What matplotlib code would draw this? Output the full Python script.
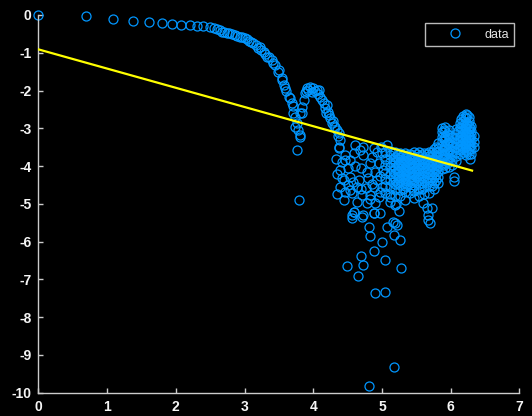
import matplotlib.pyplot as plt
import numpy as np

plt.rcParams["axes.unicode_minus"] = False

# points, grouped by region
curve_pts = [
    (0.00, 0.00), (0.69, -0.03), (1.09, -0.10), (1.38, -0.15), (1.61, -0.19),
    (1.80, -0.21), (1.94, -0.24), (2.08, -0.26), (2.21, -0.27), (2.31, -0.29),
    (2.40, -0.30), (2.50, -0.33), (2.55, -0.35), (2.60, -0.38), (2.64, -0.41),
    (2.67, -0.44), (2.70, -0.46), (2.74, -0.48), (2.78, -0.49), (2.82, -0.51),
    (2.86, -0.53), (2.89, -0.55), (2.93, -0.57), (2.96, -0.59), (3.00, -0.61),
    (3.03, -0.64), (3.07, -0.68), (3.10, -0.72), (3.13, -0.75), (3.16, -0.80),
    (3.20, -0.88), (3.23, -0.84), (3.24, -0.92), (3.28, -0.97), (3.30, -1.02),
    (3.32, -1.10), (3.35, -1.12), (3.40, -1.20), (3.42, -1.28), (3.45, -1.32),
    (3.49, -1.50), (3.50, -1.45), (3.54, -1.72), (3.55, -1.68), (3.57, -1.85),
    (3.59, -1.94), (3.61, -2.02), (3.64, -2.16), (3.66, -2.20), (3.69, -2.34),
    (3.70, -2.40), (3.71, -2.60), (3.73, -2.70), (3.74, -2.96), (3.76, -2.87),
    (3.78, -3.05), (3.81, -3.18), (3.81, -3.22), (3.77, -3.57), (3.79, -4.90),
]

arm_pts = [
    (3.81, -2.60), (3.83, -2.43), (3.83, -2.60), (3.86, -2.25), (3.88, -2.07),
    (3.90, -2.00), (3.91, -1.94), (3.93, -1.98), (3.95, -1.90), (3.98, -2.05),
    (4.00, -1.94), (4.02, -2.02), (4.05, -1.99), (4.07, -2.10), (4.08, -1.99),
    (4.10, -2.16), (4.12, -2.25), (4.15, -2.34), (4.17, -2.45), (4.19, -2.60),
    (4.20, -2.38), (4.22, -2.56), (4.23, -2.65), (4.25, -2.73), (4.27, -2.87),
    (4.28, -2.80), (4.30, -2.95), (4.32, -2.96), (4.34, -3.05), (4.36, -3.20),
    (4.37, -3.13), (4.39, -3.31), (4.38, -3.53),
]

cloud_pts = [
    (4.38, -3.49), (4.61, -3.44), (4.73, -3.49), (4.88, -3.53), (4.46, -3.71),
    (4.59, -3.66), (4.73, -3.71), (4.85, -3.75), (5.00, -3.66), (4.42, -3.88),
    (4.54, -3.84), (4.83, -3.93), (4.95, -3.93), (4.39, -4.10), (4.51, -4.06),
    (4.78, -4.15), (4.90, -4.15), (5.02, -4.10), (4.42, -4.32), (4.54, -4.28),
    (4.66, -4.37), (4.80, -4.32), (4.93, -4.37), (4.39, -4.55), (4.51, -4.50),
    (4.63, -4.55), (4.76, -4.59), (4.88, -4.55), (5.00, -4.55), (4.46, -4.68),
    (4.56, -4.72), (4.71, -4.77), (4.83, -4.77), (4.95, -4.81), (4.44, -4.90),
    (4.63, -4.94), (4.78, -4.99), (4.90, -4.99), (4.59, -5.21), (4.73, -5.30),
    (4.88, -5.25), (4.56, -5.30), (4.33, -3.80), (4.34, -4.20), (4.35, -4.75),
    (4.46, -3.84), (4.44, -4.37), (4.54, -4.63), (4.68, -3.58), (4.92, -3.62),
    (4.70, -4.05), (4.60, -4.00), (4.86, -4.48), (4.97, -4.25), (5.07, -3.44),
    (4.98, -3.50), (4.97, -4.68), (4.70, -4.62), (4.82, -4.86), (4.58, -4.42),
]

tail_pts = [
    (4.59, -5.21), (4.56, -5.38), (4.71, -5.34), (4.81, -5.60), (4.82, -5.85),
    (4.88, -5.25), (4.97, -5.25), (5.07, -5.60), (5.19, -5.51), (5.22, -5.56),
    (5.17, -5.82), (5.26, -5.97), (5.00, -6.00), (4.89, -6.24), (4.70, -6.38),
    (4.73, -6.62), (4.49, -6.65), (4.65, -6.91), (5.05, -6.49), (5.27, -6.71),
    (4.90, -7.37), (5.05, -7.34), (5.18, -9.31), (4.81, -9.81), (5.16, -5.48),
    (5.12, -4.82), (5.20, -5.00), (5.25, -5.20), (5.60, -4.98), (5.65, -5.10),
    (5.67, -5.30), (5.67, -5.43), (5.70, -5.50), (5.73, -5.10),
]

dense_pts = [
    (5.05, -3.62), (5.05, -3.80), (5.05, -3.98), (5.05, -4.18), (5.05, -4.35), (5.05, -4.52), (5.05, -4.70),
    (5.12, -3.60), (5.12, -3.72), (5.12, -3.88), (5.12, -4.02), (5.12, -4.20), (5.12, -4.38), (5.12, -4.55),
    (5.12, -4.75), (5.12, -4.95),
    (5.19, -3.62), (5.19, -3.75), (5.19, -3.90), (5.19, -4.05), (5.19, -4.18), (5.19, -4.32), (5.19, -4.47),
    (5.19, -4.62), (5.19, -4.80), (5.19, -5.02),
    (5.26, -3.65), (5.26, -3.76), (5.26, -3.88), (5.26, -4.00), (5.26, -4.12), (5.26, -4.25), (5.26, -4.38),
    (5.26, -4.50), (5.26, -4.64), (5.26, -4.80),
    (5.33, -3.66), (5.33, -3.78), (5.33, -3.90), (5.33, -4.02), (5.33, -4.14), (5.33, -4.26), (5.33, -4.38),
    (5.33, -4.52), (5.33, -4.68), (5.33, -4.90),
    (5.40, -3.68), (5.40, -3.80), (5.40, -3.92), (5.40, -4.04), (5.40, -4.16), (5.40, -4.28), (5.40, -4.40),
    (5.40, -4.55), (5.40, -4.72),
    (5.47, -3.64), (5.47, -3.76), (5.47, -3.88), (5.47, -4.00), (5.47, -4.12), (5.47, -4.24), (5.47, -4.36),
    (5.47, -4.50), (5.47, -4.66), (5.47, -4.85),
    (5.54, -3.62), (5.54, -3.74), (5.54, -3.86), (5.54, -3.98), (5.54, -4.10), (5.54, -4.22), (5.54, -4.34),
    (5.54, -4.48), (5.54, -4.62), (5.54, -4.80),
    (5.61, -3.65), (5.61, -3.78), (5.61, -3.90), (5.61, -4.02), (5.61, -4.14), (5.61, -4.26), (5.61, -4.40),
    (5.61, -4.55), (5.61, -4.75),
    (5.68, -3.62), (5.68, -3.74), (5.68, -3.86), (5.68, -3.98), (5.68, -4.10), (5.68, -4.22), (5.68, -4.36),
    (5.68, -4.52), (5.68, -4.70),
    (5.75, -3.55), (5.75, -3.68), (5.75, -3.80), (5.75, -3.92), (5.75, -4.04), (5.75, -4.16), (5.75, -4.30),
    (5.75, -4.45), (5.75, -4.62),
    (5.82, -3.40), (5.82, -3.52), (5.82, -3.64), (5.82, -3.76), (5.82, -3.88), (5.82, -4.00), (5.82, -4.14),
    (5.82, -4.30), (5.82, -4.46),
]

# the solid core, between the columns above
core_pts = [
    (5.23, -3.70), (5.23, -3.82), (5.23, -3.94), (5.23, -4.06), (5.23, -4.18), (5.23, -4.31), (5.23, -4.44),
    (5.30, -3.71), (5.30, -3.83), (5.30, -3.95), (5.30, -4.08), (5.30, -4.20), (5.30, -4.33), (5.30, -4.46),
    (5.30, -4.60),
    (5.37, -3.72), (5.37, -3.84), (5.37, -3.97), (5.37, -4.10), (5.37, -4.22), (5.37, -4.34), (5.37, -4.47),
    (5.44, -3.70), (5.44, -3.82), (5.44, -3.94), (5.44, -4.06), (5.44, -4.18), (5.44, -4.30), (5.44, -4.43),
    (5.44, -4.58),
    (5.51, -3.68), (5.51, -3.80), (5.51, -3.92), (5.51, -4.04), (5.51, -4.16), (5.51, -4.28), (5.51, -4.41),
    (5.58, -3.70), (5.58, -3.82), (5.58, -3.94), (5.58, -4.06), (5.58, -4.18), (5.58, -4.31), (5.58, -4.45),
    (5.58, -4.60),
    (5.65, -3.68), (5.65, -3.80), (5.65, -3.92), (5.65, -4.04), (5.65, -4.16), (5.65, -4.29), (5.65, -4.43),
    (5.72, -3.62), (5.72, -3.74), (5.72, -3.86), (5.72, -3.98), (5.72, -4.10), (5.72, -4.23), (5.72, -4.37),
    (5.72, -4.53),
    (5.79, -3.50), (5.79, -3.62), (5.79, -3.74), (5.79, -3.86), (5.79, -3.98), (5.79, -4.10), (5.79, -4.22),
    (5.79, -4.37),
    (5.16, -3.66), (5.16, -3.82), (5.16, -3.96), (5.16, -4.12), (5.16, -4.28), (5.16, -4.42),
]

hump_pts = [
    (5.87, -2.98), (5.87, -3.10), (5.87, -3.22), (5.87, -3.34), (5.87, -3.46), (5.87, -3.58), (5.87, -3.70),
    (5.87, -3.82), (5.87, -3.95), (5.87, -4.08),
    (5.92, -2.96), (5.92, -3.08), (5.92, -3.20), (5.92, -3.32), (5.92, -3.44), (5.92, -3.56), (5.92, -3.68),
    (5.92, -3.80), (5.92, -3.92), (5.92, -4.05),
    (5.97, -3.05), (5.97, -3.18), (5.97, -3.30), (5.97, -3.42), (5.97, -3.54), (5.97, -3.66), (5.97, -3.78),
    (5.97, -3.90), (5.97, -4.02),
    (6.02, -3.22), (6.02, -3.35), (6.02, -3.48), (6.02, -3.60), (6.02, -3.72), (6.02, -3.84), (6.02, -3.96),
    (6.04, -4.30), (6.05, -4.40),
    (6.08, -3.02), (6.08, -3.14), (6.08, -3.26), (6.08, -3.38), (6.08, -3.50), (6.08, -3.62), (6.08, -3.74),
    (6.08, -3.86),
    (6.13, -2.85), (6.13, -2.97), (6.13, -3.09), (6.13, -3.21), (6.13, -3.33), (6.13, -3.45), (6.13, -3.57),
    (6.13, -3.69),
    (6.18, -2.68), (6.18, -2.80), (6.18, -2.92), (6.18, -3.04), (6.18, -3.16), (6.18, -3.28), (6.18, -3.40),
    (6.18, -3.52), (6.18, -3.64),
    (6.22, -2.62), (6.22, -2.74), (6.22, -2.86), (6.22, -2.98), (6.22, -3.10), (6.22, -3.22), (6.22, -3.34),
    (6.22, -3.46), (6.22, -3.58), (6.22, -3.70),
    (6.26, -2.70), (6.26, -2.82), (6.26, -2.94), (6.26, -3.06), (6.26, -3.18), (6.26, -3.30), (6.26, -3.42),
    (6.26, -3.55), (6.26, -3.68), (6.28, -3.80),
    (6.30, -2.95), (6.30, -3.07), (6.30, -3.19), (6.30, -3.31), (6.30, -3.43), (6.30, -3.55), (6.30, -3.67),
    (6.34, -3.20), (6.34, -3.35), (6.34, -3.50),
    (5.895, -3.04), (5.895, -3.27), (5.895, -3.50), (5.895, -3.74), (5.895, -3.98),
    (5.945, -3.14), (5.945, -3.38), (5.945, -3.61), (5.945, -3.85),
    (6.105, -3.08), (6.105, -3.32), (6.105, -3.56), (6.155, -2.76), (6.155, -3.00), (6.155, -3.24),
    (6.155, -3.48), (6.20, -2.70), (6.20, -2.94), (6.20, -3.18), (6.20, -3.42), (6.24, -2.66),
    (6.24, -2.90), (6.24, -3.14), (6.24, -3.38), (6.24, -3.62), (6.28, -3.00), (6.28, -3.24), (6.28, -3.48),
]

fit_x = [0.0, 6.31]
fit_y = [-0.91, -4.12]

x_ticks = [0, 1, 2, 3, 4, 5, 6, 7]
y_ticks = [0, -1, -2, -3, -4, -5, -6, -7, -8, -9, -10]

all_pts = np.array(curve_pts + arm_pts + cloud_pts + tail_pts + dense_pts + core_pts + hump_pts)

fig = plt.figure(figsize=(5.32, 4.16), dpi=100, facecolor="black")
ax = fig.add_axes([0.072, 0.056, 0.9045, 0.908], facecolor="black")

ax.plot(all_pts[:, 0], all_pts[:, 1], "o", mfc="none", mec="#0096FF",
        ms=6.5, mew=0.9, label="data", zorder=2, clip_on=False)
ax.plot(fit_x, fit_y, color="#FFFF00", lw=1.6, zorder=3, label="_fit")

ax.set_xlim(0, 7)
ax.set_ylim(-10, 0)
ax.set_xticks(x_ticks)
ax.set_yticks(y_ticks)

for side in ["top", "right"]:
    ax.spines[side].set_visible(False)
for side in ["left", "bottom"]:
    ax.spines[side].set_color("#CCCCCC")
    ax.spines[side].set_linewidth(1.0)

ax.tick_params(direction="in", length=3.5, width=1, colors="#CCCCCC",
               labelcolor="#F5F5F5", labelsize=10, pad=5)
for lab in ax.get_xticklabels() + ax.get_yticklabels():
    lab.set_fontweight("bold")
    lab.set_family(["Liberation Sans", "DejaVu Sans"])

leg = ax.legend(loc="upper right", bbox_to_anchor=(1 - 5 / 481, 1 - 8 / 378),
                borderaxespad=0, handlelength=4.0, handletextpad=0.3,
                borderpad=0.45, numpoints=1, fancybox=False, framealpha=1,
                prop={"family": ["Liberation Sans", "DejaVu Sans"], "size": 9})
leg.get_frame().set_facecolor("black")
leg.get_frame().set_edgecolor("#BBBBBB")
leg.get_frame().set_linewidth(1.0)
for t in leg.get_texts():
    t.set_color("#E6E6E6")

fig.savefig("out.png", dpi=100, facecolor="black")
